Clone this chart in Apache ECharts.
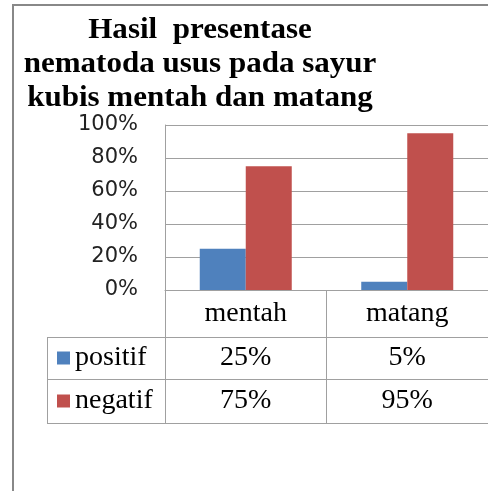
<!DOCTYPE html>
<html>
<head>
<meta charset="utf-8">
<script src="https://cdn.jsdelivr.net/npm/echarts@6/dist/echarts.min.js"></script>
<style>
  html, body { margin: 0; padding: 0; background: #fff; }
  #chart { width: 488px; height: 491px; }
</style>
</head>
<body>
<div id="chart"></div>
<script>
// data
const titleLines = ['Hasil  presentase', 'nematoda usus pada sayur', 'kubis mentah dan matang'];
const categories = ['mentah', 'matang'];
const positif = [25, 5];
const negatif = [75, 95];
const seriesNames = ['positif', 'negatif'];

const gridColor = '#a0a0a0';
const serif = '"Liberation Serif", "Times New Roman", serif';

let chartView = echarts.init(document.getElementById('chart'), null, { renderer: 'canvas' });

// table rows (y in px): header row, positif row, negatif row
const rowTop = 290, rowH = [47, 42, 44];

chartView.setOption({
    backgroundColor: '#fff',
    animation: false,
    grid: {
        left: 165,
        top: 125,
        width: 324,
        height: 165,
        containLabel: false
    },
    legend: {
        data: seriesNames,
        orient: 'vertical',
        left: 57,
        top: 344,
        padding: 0,
        itemGap: 15,
        itemWidth: 13,
        itemHeight: 13,
        icon: 'rect',
        textStyle: {
            fontFamily: serif,
            fontSize: 28,
            color: '#000',
            lineHeight: 28
        }
    },
    xAxis: {
        type: 'category',
        data: categories,
        axisLine: { lineStyle: { color: gridColor, width: 1 } },
        axisTick: {
            show: true,
            length: rowH[0] + rowH[1] + rowH[2],
            lineStyle: { color: gridColor }
        },
        axisLabel: {
            interval: 0,
            margin: 0,
            formatter: function (value, idx) {
                return '{c|' + value + '}\n{p|' + positif[idx] + '%}\n{n|' + negatif[idx] + '%}';
            },
            rich: {
                c: { fontFamily: serif, fontSize: 28, color: '#000', lineHeight: rowH[0] },
                p: { fontFamily: serif, fontSize: 28, color: '#000', lineHeight: rowH[1] },
                n: { fontFamily: serif, fontSize: 28, color: '#000', lineHeight: rowH[2] }
            }
        }
    },
    yAxis: {
        type: 'value',
        min: 0,
        max: 100,
        interval: 20,
        axisLine: { show: true, lineStyle: { color: gridColor } },
        axisTick: { show: false },
        splitLine: { show: true, lineStyle: { color: gridColor } },
        axisLabel: {
            formatter: '{value}%',
            margin: 27,
            padding: [3, 0, 0, 0],
            fontFamily: '"DejaVu Sans", sans-serif',
            fontSize: 21,
            color: '#222'
        }
    },
    series: [
        {
            name: seriesNames[0],
            type: 'bar',
            data: positif,
            barWidth: 46,
            barGap: '0%',
            itemStyle: { color: '#4f81bd' }
        },
        {
            name: seriesNames[1],
            type: 'bar',
            data: negatif,
            barWidth: 46,
            barGap: '0%',
            itemStyle: { color: '#c0504d' }
        }
    ]
});

// data table lines + frame + title (after layout so positions come from the axis)
const c0 = chartView.convertToPixel({ xAxisIndex: 0 }, 0);
const c1 = chartView.convertToPixel({ xAxisIndex: 0 }, 1);
const band = c1 - c0;
const tableRight = c0 - band / 2 + band * categories.length;
const legendLeft = 47;
const rowLines = [];
let y = rowTop;
for (let i = 0; i < rowH.length; i++) {
    y += rowH[i];
    rowLines.push({
        type: 'line',
        shape: { x1: legendLeft, y1: y + 0.5, x2: tableRight, y2: y + 0.5 },
        style: { stroke: gridColor, lineWidth: 1 },
        silent: true
    });
}
rowLines.push({
    type: 'line',
    shape: { x1: legendLeft + 0.5, y1: rowTop + rowH[0], x2: legendLeft + 0.5, y2: y },
    style: { stroke: gridColor, lineWidth: 1 },
    silent: true
});

chartView.setOption({
    graphic: rowLines.concat([
        {
            type: 'rect',
            shape: { x: 13, y: 5, width: 600, height: 600 },
            style: { fill: 'none', stroke: '#888', lineWidth: 2 },
            silent: true
        },
        {
            type: 'text',
            x: 200,
            y: 14,
            scaleX: 1.07,
            style: {
                text: titleLines.join('\n'),
                x: 0,
                y: 0,
                textAlign: 'center',
                textVerticalAlign: 'top',
                fontFamily: serif,
                fontWeight: 'bold',
                fontSize: 29,
                lineHeight: 34,
                fill: '#000'
            },
            silent: true
        }
    ])
});

window.addEventListener('resize', function () {
    chartView.resize();
});
</script>
</body>
</html>
